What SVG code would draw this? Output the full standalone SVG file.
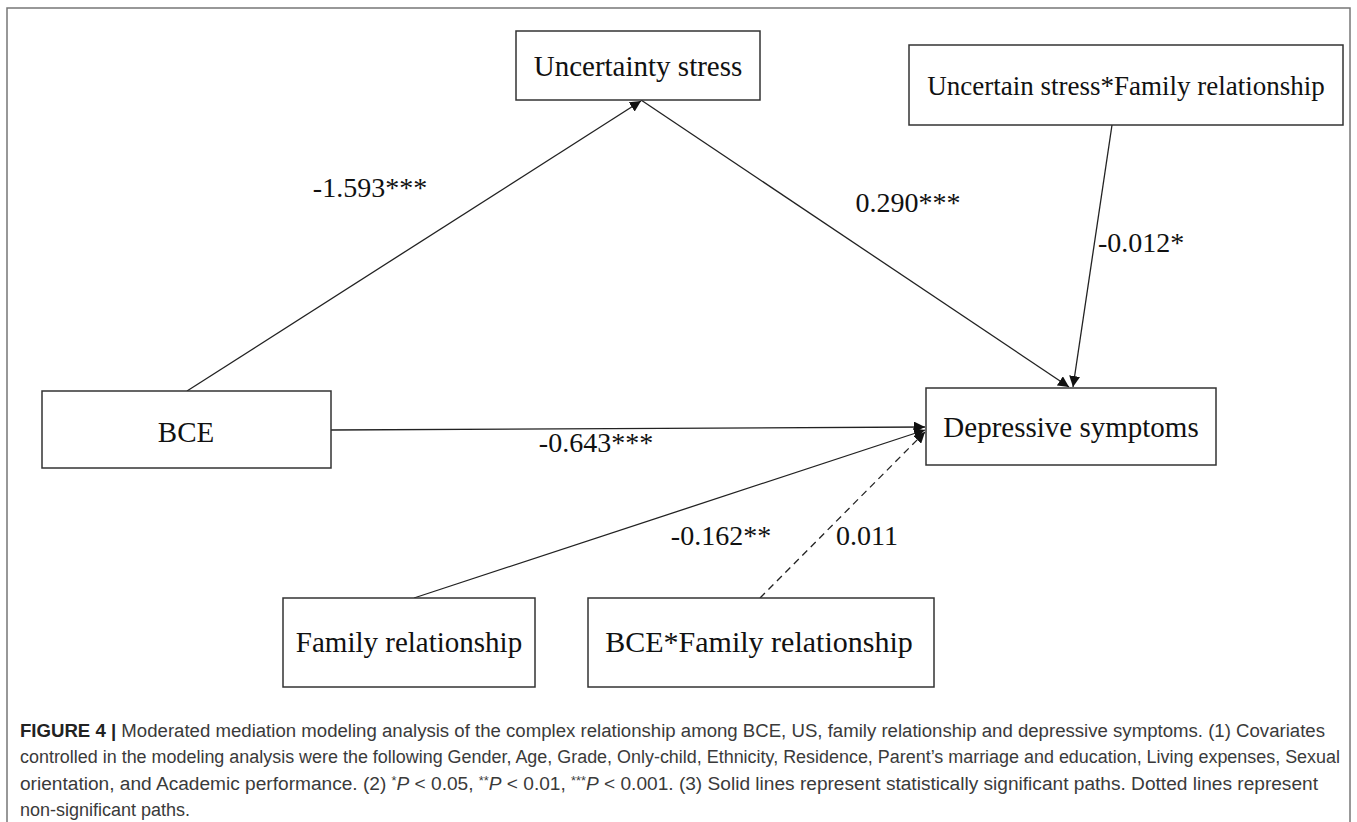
<svg xmlns="http://www.w3.org/2000/svg" width="1357" height="822" viewBox="0 0 1357 822">
<style>
.box{fill:#fff;stroke:#333;stroke-width:1.5}
.nt{font-family:"Liberation Serif","Times New Roman",serif;font-size:29px;fill:#111;text-anchor:middle}
.lb{font-family:"Liberation Serif","Times New Roman",serif;font-size:28px;fill:#111;text-anchor:middle}
.ln{stroke:#222;stroke-width:1.3;fill:none}
.cap{font-family:"Liberation Sans",Arial,sans-serif;font-size:18px;fill:#3a3a3a}
</style>
<defs>
<marker id="ah" viewBox="0 0 10 10" refX="10" refY="5" markerWidth="11" markerHeight="11" markerUnits="userSpaceOnUse" orient="auto">
<path d="M0,0 L10,5 L0,10 z" fill="#111"/>
</marker>
</defs>
<rect x="7" y="8" width="1343" height="830" fill="none" stroke="#777" stroke-width="1.5"/>
<g id="connectors">
<line class="ln" x1="187" y1="391" x2="641" y2="101" marker-end="url(#ah)"/>
<line class="ln" x1="641" y1="100" x2="1069" y2="387" marker-end="url(#ah)"/>
<line class="ln" x1="1112" y1="125" x2="1073" y2="387" marker-end="url(#ah)"/>
<line class="ln" x1="331" y1="430" x2="925" y2="427" marker-end="url(#ah)"/>
<line class="ln" x1="414" y1="598" x2="925" y2="430" marker-end="url(#ah)"/>
<line class="ln" x1="760" y1="598" x2="925" y2="432" stroke-dasharray="7,5" marker-end="url(#ah)"/>
<text class="lb" x="370" y="197">-1.593***</text>
<text class="lb" x="908" y="212">0.290***</text>
<text class="lb" x="1098" y="252" style="text-anchor:start">-0.012*</text>
<text class="lb" x="596" y="452">-0.643***</text>
<text class="lb" x="721" y="545">-0.162**</text>
<text class="lb" x="867" y="545">0.011</text>
</g>
<g id="uncertainty-stress">
<rect class="box" x="516" y="31" width="244" height="69"/>
<text class="nt" x="638" y="76">Uncertainty stress</text>
</g>
<g id="interaction-us-fr">
<rect class="box" x="909" y="45" width="434" height="80"/>
<text class="nt" x="1126" y="95" style="font-size:27px">Uncertain stress*Family relationship</text>
</g>
<g id="bce">
<rect class="box" x="42" y="391" width="289" height="77"/>
<text class="nt" x="186" y="442">BCE</text>
</g>
<g id="depressive">
<rect class="box" x="926" y="388" width="290" height="77"/>
<text class="nt" x="1071" y="437">Depressive symptoms</text>
</g>
<g id="family">
<rect class="box" x="283" y="598" width="252" height="89"/>
<text class="nt" x="409" y="652">Family relationship</text>
</g>
<g id="interaction-bce-fr">
<rect class="box" x="588" y="598" width="346" height="89"/>
<text class="nt" x="759" y="652" style="font-size:30px">BCE*Family relationship</text>
</g>
<g id="caption">
<text class="cap" x="20" y="737" textLength="1305" lengthAdjust="spacingAndGlyphs"><tspan font-weight="bold" fill="#222">FIGURE 4 |</tspan> Moderated mediation modeling analysis of the complex relationship among BCE, US, family relationship and depressive symptoms. (1) Covariates</text>
<text class="cap" x="20" y="763" textLength="1320" lengthAdjust="spacingAndGlyphs">controlled in the modeling analysis were the following Gender, Age, Grade, Only-child, Ethnicity, Residence, Parent’s marriage and education, Living expenses, Sexual</text>
<text class="cap" x="20" y="790" textLength="1298" lengthAdjust="spacingAndGlyphs">orientation, and Academic performance. (2) <tspan font-size="12" dy="-5">*</tspan><tspan font-style="italic" dy="5">P</tspan> &lt; 0.05, <tspan font-size="12" dy="-5">**</tspan><tspan font-style="italic" dy="5">P</tspan> &lt; 0.01, <tspan font-size="12" dy="-5">***</tspan><tspan font-style="italic" dy="5">P</tspan> &lt; 0.001. (3) Solid lines represent statistically significant paths. Dotted lines represent</text>
<text class="cap" x="20" y="816">non-significant paths.</text>
</g>
</svg>
